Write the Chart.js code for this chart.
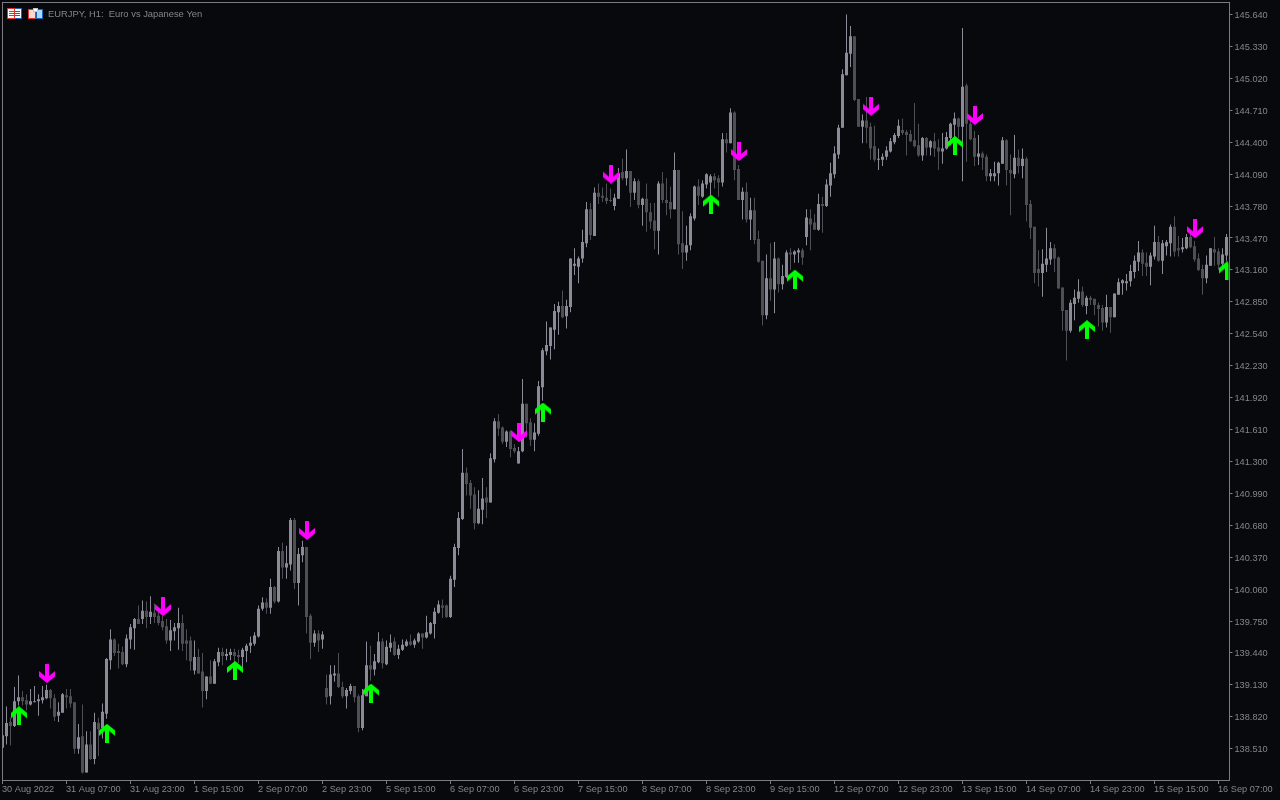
<!DOCTYPE html>
<html>
<head>
<meta charset="utf-8">
<title>EURJPY, H1</title>
<script src="https://cdn.jsdelivr.net/npm/chart.js@4/dist/chart.umd.min.js"></script>
<style>
  html, body { margin: 0; padding: 0; background: #08090d; }
  canvas { display: block; }
</style>
</head>
<body>
<canvas id="myChart" width="1280" height="800"></canvas>
<script>
const titleText = "EURJPY, H1:  Euro vs Japanese Yen";

const xTickLabels = ["30 Aug 2022", "31 Aug 07:00", "31 Aug 23:00", "1 Sep 15:00", "2 Sep 07:00",
  "2 Sep 23:00", "5 Sep 15:00", "6 Sep 07:00", "6 Sep 23:00", "7 Sep 15:00", "8 Sep 07:00",
  "8 Sep 23:00", "9 Sep 15:00", "12 Sep 07:00", "12 Sep 23:00", "13 Sep 15:00", "14 Sep 07:00",
  "14 Sep 23:00", "15 Sep 15:00", "16 Sep 07:00"];

const yTickLabels = ["145.640", "145.330", "145.020", "144.710", "144.400", "144.090", "143.780",
  "143.470", "143.160", "142.850", "142.540", "142.230", "141.920", "141.610", "141.300", "140.990",
  "140.680", "140.370", "140.060", "139.750", "139.440", "139.130", "138.820", "138.510"];

const opens = [
  138.52,138.63,138.77,138.73,138.97,139.01,138.98,138.94,138.96,138.97,
  138.98,139.00,139.08,139.00,138.83,138.86,139.03,139.02,138.96,138.51,
  138.63,138.28,138.55,138.41,138.76,138.71,138.85,139.37,139.57,139.46,
  139.45,139.33,139.57,139.68,139.77,139.77,139.85,139.79,139.83,139.80,
  139.75,139.70,139.56,139.65,139.68,139.73,139.56,139.56,139.27,139.40,
  139.26,139.07,139.21,139.14,139.35,139.45,139.41,139.42,139.45,139.42,
  139.40,139.46,139.51,139.53,139.60,139.87,139.93,139.88,140.08,139.94,
  140.43,140.27,140.30,140.73,140.12,140.39,140.47,139.80,139.54,139.63,
  139.57,139.10,139.02,139.22,139.24,139.11,139.02,139.07,139.12,139.02,
  138.71,139.02,139.32,139.28,139.35,139.55,139.33,139.49,139.55,139.42,
  139.47,139.51,139.55,139.52,139.55,139.63,139.59,139.63,139.72,139.83,
  139.90,139.90,139.79,140.15,140.46,140.74,141.19,141.09,140.98,140.70,
  140.83,140.95,140.90,141.32,141.69,141.63,141.49,141.59,141.43,141.28,
  141.40,141.86,141.68,141.51,141.57,142.02,142.37,142.42,142.58,142.75,
  142.81,142.71,142.80,143.20,143.19,143.27,143.42,143.75,143.49,143.91,
  143.88,143.86,143.84,143.78,143.85,144.11,144.05,144.12,143.91,144.02,
  143.79,143.85,143.72,143.64,143.54,144.00,143.84,143.82,143.75,144.13,
  143.42,143.33,143.40,143.66,143.97,143.87,143.99,144.01,144.07,144.05,
  144.01,144.43,144.39,144.69,144.14,143.84,143.92,143.65,143.74,143.46,
  143.25,142.72,143.08,142.97,143.27,143.02,143.09,143.33,143.31,143.33,
  143.35,143.48,143.66,143.62,143.55,143.80,143.78,143.98,144.09,144.28,
  144.54,145.05,145.26,145.43,144.82,144.55,144.61,144.55,144.36,144.23,
  144.23,144.26,144.31,144.40,144.46,144.52,144.50,144.48,144.42,144.37,
  144.27,144.44,144.35,144.41,144.35,144.31,144.34,144.44,144.57,144.63,
  144.55,144.95,144.58,144.44,144.26,144.29,144.26,144.07,144.07,144.10,
  144.19,144.42,144.13,144.09,144.25,144.17,144.24,143.80,143.58,143.17,
  143.13,143.21,143.26,143.37,143.28,142.99,142.77,142.57,142.83,142.88,
  142.95,142.81,142.89,142.88,142.82,142.79,142.65,142.80,142.70,142.92,
  143.03,143.03,143.05,143.14,143.24,143.33,143.23,143.19,143.29,143.43,
  143.25,143.39,143.42,143.58,143.37,143.36,143.37,143.48,143.39,143.27,
  143.17,143.08,143.20,143.36,143.34,143.22,143.30];

const highs = [
  138.70,138.92,138.81,139.11,139.22,139.07,139.04,139.09,139.12,139.04,
  139.12,139.13,139.09,139.04,138.96,139.05,139.09,139.09,138.96,138.75,
  138.94,138.68,138.68,138.86,138.81,138.95,139.39,139.67,139.58,139.53,
  139.50,139.62,139.72,139.78,139.90,139.95,139.94,139.99,139.92,139.87,
  139.80,139.77,139.76,139.73,139.88,139.81,139.67,139.60,139.56,139.48,
  139.44,139.21,139.37,139.38,139.49,139.49,139.48,139.48,139.48,139.47,
  139.49,139.53,139.60,139.64,139.90,139.98,139.97,140.16,140.09,140.47,
  140.51,140.48,140.75,140.75,140.46,140.53,140.47,139.82,139.66,139.66,
  139.65,139.23,139.32,139.32,139.44,139.16,139.10,139.14,139.12,139.04,
  139.09,139.55,139.51,139.43,139.64,139.58,139.56,139.62,139.59,139.52,
  139.57,139.57,139.62,139.58,139.64,139.63,139.80,139.74,139.88,139.95,
  139.96,139.91,140.19,140.50,140.81,141.42,141.24,141.12,141.05,141.02,
  141.14,141.05,141.38,141.72,141.76,141.64,141.60,141.60,141.47,141.44,
  142.10,141.86,141.72,141.67,142.08,142.40,142.66,142.60,142.83,142.85,
  142.96,142.87,143.27,143.37,143.29,143.55,143.82,143.81,143.96,144.00,
  143.96,144.00,143.95,143.90,144.15,144.24,144.33,144.12,144.05,144.04,
  143.86,144.00,143.81,143.81,144.02,144.11,144.05,143.97,144.30,144.13,
  143.73,143.59,143.71,143.98,144.04,144.03,144.10,144.09,144.10,144.08,
  144.49,144.49,144.73,144.70,144.18,143.96,144.01,143.86,143.86,143.54,
  143.25,143.31,143.42,143.43,143.28,143.21,143.35,143.37,143.35,143.37,
  143.37,143.75,143.75,143.70,143.90,143.87,144.04,144.20,144.36,144.57,
  145.11,145.64,145.53,145.43,144.82,144.67,144.84,144.59,144.56,144.34,
  144.29,144.36,144.44,144.49,144.62,144.63,144.52,144.52,144.78,144.58,
  144.45,144.45,144.42,144.49,144.43,144.49,144.50,144.59,144.69,144.64,
  145.51,144.97,144.62,144.51,144.47,144.31,144.28,144.14,144.21,144.21,
  144.45,144.43,144.28,144.47,144.33,144.34,144.26,143.84,143.58,143.35,
  143.36,143.57,143.43,143.41,143.29,142.99,142.77,142.87,142.97,143.07,
  143.00,142.91,142.91,142.88,142.84,142.82,142.92,142.80,142.93,143.08,
  143.07,143.12,143.21,143.30,143.44,143.36,143.33,143.33,143.59,143.49,
  143.45,143.45,143.60,143.68,143.49,143.47,143.51,143.51,143.44,143.32,
  143.21,143.30,143.37,143.48,143.37,143.37,143.51];

const lows = [
  138.49,138.55,138.54,138.72,138.93,138.93,138.88,138.93,138.96,138.83,
  138.95,138.99,138.90,138.78,138.77,138.86,138.90,138.91,138.46,138.46,
  138.27,138.28,138.40,138.36,138.44,138.61,138.80,139.28,139.41,139.29,
  139.32,139.30,139.48,139.47,139.72,139.72,139.68,139.72,139.73,139.71,
  139.66,139.53,139.46,139.56,139.47,139.46,139.37,139.27,139.23,139.24,
  138.91,138.99,139.14,139.14,139.31,139.32,139.37,139.37,139.34,139.34,
  139.30,139.35,139.44,139.51,139.59,139.85,139.82,139.82,139.92,139.93,
  140.16,140.16,140.24,140.06,139.90,140.32,139.63,139.38,139.50,139.45,
  139.48,138.94,138.94,139.16,139.10,139.00,138.90,139.04,138.96,138.67,
  138.69,139.02,139.17,139.22,139.34,139.29,139.32,139.45,139.41,139.38,
  139.46,139.50,139.51,139.49,139.54,139.48,139.58,139.62,139.58,139.82,
  139.78,139.78,139.78,140.08,140.39,140.73,140.97,140.84,140.64,140.69,
  140.69,140.75,140.90,141.29,141.55,141.47,141.44,141.34,141.38,141.28,
  141.39,141.53,141.45,141.40,141.55,141.89,142.33,142.29,142.39,142.53,
  142.69,142.59,142.75,143.11,143.03,143.23,143.38,143.45,143.49,143.80,
  143.82,143.80,143.82,143.74,143.85,144.03,143.98,143.77,143.84,143.76,
  143.59,143.53,143.56,143.36,143.31,143.81,143.69,143.66,143.75,143.31,
  143.17,143.25,143.35,143.64,143.79,143.86,143.95,143.88,143.95,143.87,
  143.97,144.30,144.39,144.03,143.84,143.65,143.62,143.45,143.41,143.23,
  142.62,142.68,142.86,142.74,142.94,142.97,143.08,143.16,143.23,143.23,
  143.21,143.40,143.35,143.55,143.54,143.52,143.77,143.87,144.05,144.24,
  144.54,145.05,145.13,144.80,144.55,144.39,144.39,144.23,144.21,144.13,
  144.17,144.23,144.30,144.38,144.44,144.47,144.27,144.40,144.35,144.26,
  144.22,144.27,144.27,144.26,144.13,144.19,144.33,144.37,144.42,144.44,
  144.02,144.21,144.42,144.17,144.18,144.13,144.02,144.02,144.02,143.98,
  144.19,143.98,143.69,144.05,144.10,144.05,143.63,143.46,143.03,143.00,
  142.90,143.14,143.21,143.14,142.98,142.57,142.28,142.55,142.67,142.84,
  142.80,142.73,142.82,142.72,142.61,142.57,142.60,142.55,142.70,142.92,
  142.92,142.96,143.00,143.08,143.15,143.10,143.10,143.01,143.26,143.24,
  143.12,143.30,143.29,143.29,143.29,143.33,143.36,143.37,143.24,143.15,
  142.92,143.03,143.20,143.20,143.16,143.16,143.25];

const closes = [
  138.64,138.76,138.73,138.97,139.01,138.97,138.94,138.97,138.97,138.99,
  139.01,139.08,139.00,138.82,138.87,139.04,139.01,138.95,138.51,138.62,
  138.28,138.55,138.41,138.77,138.70,138.87,139.38,139.57,139.44,139.44,
  139.33,139.58,139.69,139.77,139.72,139.85,139.79,139.84,139.79,139.73,
  139.69,139.56,139.66,139.69,139.73,139.53,139.53,139.36,139.40,139.24,
  139.07,139.21,139.14,139.36,139.45,139.41,139.43,139.45,139.41,139.40,
  139.47,139.51,139.54,139.61,139.87,139.93,139.88,140.08,139.94,140.43,
  140.27,140.31,140.73,140.12,140.40,140.47,139.79,139.54,139.63,139.56,
  139.62,139.01,139.23,139.24,139.11,139.02,139.08,139.12,139.01,138.71,
  139.03,139.32,139.28,139.36,139.55,139.34,139.50,139.54,139.42,139.48,
  139.52,139.55,139.52,139.56,139.63,139.59,139.64,139.73,139.84,139.91,
  139.88,139.79,140.16,140.47,140.75,141.19,141.08,140.97,140.70,140.84,
  140.94,140.90,141.33,141.69,141.62,141.49,141.59,141.42,141.40,141.40,
  141.86,141.67,141.51,141.58,142.03,142.38,142.43,142.60,142.76,142.81,
  142.70,142.81,143.27,143.22,143.27,143.43,143.75,143.50,143.91,143.87,
  143.86,143.83,143.83,143.86,144.10,144.05,144.12,143.91,144.02,143.79,
  143.85,143.72,143.63,143.54,144.00,143.84,143.81,143.75,144.13,143.41,
  143.33,143.40,143.68,143.97,143.88,144.00,144.09,144.07,144.03,144.01,
  144.43,144.39,144.69,144.13,143.84,143.92,143.65,143.74,143.45,143.24,
  142.72,143.08,142.97,143.27,143.02,143.10,143.33,143.31,143.34,143.35,
  143.28,143.67,143.60,143.55,143.80,143.78,143.99,144.10,144.29,144.54,
  145.06,145.27,145.43,144.81,144.55,144.61,144.54,144.34,144.23,144.24,
  144.26,144.32,144.41,144.47,144.56,144.49,144.47,144.41,144.36,144.27,
  144.44,144.35,144.41,144.34,144.31,144.34,144.45,144.58,144.63,144.55,
  144.94,144.58,144.43,144.26,144.29,144.25,144.07,144.10,144.10,144.20,
  144.42,144.13,144.10,144.25,144.17,144.24,143.79,143.57,143.13,143.13,
  143.22,143.27,143.37,143.27,142.98,142.76,142.57,142.84,142.89,142.95,
  142.82,142.89,142.87,142.82,142.78,142.65,142.80,142.70,142.93,143.04,
  143.06,143.05,143.15,143.25,143.33,143.22,143.19,143.30,143.43,143.25,
  143.42,143.43,143.58,143.34,143.35,143.38,143.48,143.38,143.26,143.16,
  143.08,143.21,143.37,143.33,143.21,143.31,143.48];

// signal arrows, bar number and price
const buyBars = [4, 26, 58, 92, 135, 177, 198, 238, 271, 306];
const buyPrices = [138.83, 138.66, 139.27, 139.05, 141.78, 143.80, 143.07, 144.37, 142.58, 143.15];
const sellBars = [11, 40, 76, 129, 152, 184, 217, 243, 298];
const sellPrices = [139.24, 139.89, 140.63, 141.58, 144.09, 144.31, 144.75, 144.66, 143.56];

const bg = "#08090d";
const frameColor = "#7b7b83";
const textColor = "#85858d";
const upColor = "#8b8b97";
const downColor = "#4e4e54";
const fontName = "'Liberation Sans', sans-serif";

const categories = opens.map((v, i) => i);
const barColors = opens.map((v, i) => closes[i] >= v ? upColor : downColor);

function sparse(bars, prices) {
  const out = categories.map(() => null);
  bars.forEach((b, i) => { out[b] = prices[i]; });
  return out;
}

// arrow image, drawn pointing up and flipped for sell signals
function arrowImage(color, up) {
  const c = document.createElement("canvas");
  c.width = 17;
  c.height = 19;
  const g = c.getContext("2d");
  if (!up) { g.translate(0, 19); g.scale(1, -1); }
  g.fillStyle = color;
  g.beginPath();
  g.moveTo(9, 0);
  g.lineTo(17, 6.5);
  g.lineTo(17, 12);
  g.lineTo(11, 7);
  g.lineTo(11, 19);
  g.lineTo(7, 19);
  g.lineTo(7, 7);
  g.lineTo(1, 12);
  g.lineTo(1, 6.5);
  g.closePath();
  g.fill();
  return c;
}

const framePlugin = {
  id: "frame",
  beforeDraw(chart) {
    const ctx = chart.ctx;
    ctx.fillStyle = bg;
    ctx.fillRect(0, 0, 1280, 800);
  },
  afterDraw(chart) {
    const ctx = chart.ctx;
    ctx.save();
    ctx.fillStyle = bg;
    ctx.fillRect(0, 0, 2, 780);
    ctx.fillStyle = frameColor;
    ctx.fillRect(2, 2, 1228, 1);
    ctx.fillRect(2, 2, 1, 779);
    ctx.fillRect(2, 780, 1228, 1);
    ctx.fillRect(1229, 2, 1, 779);

    // chart window icons
    ctx.fillStyle = "#e0342c"; ctx.fillRect(7, 8, 8, 11);
    ctx.fillStyle = "#1c62b8"; ctx.fillRect(15, 8, 7, 11);
    ctx.fillStyle = "#ffffff"; ctx.fillRect(8, 9, 6, 9); ctx.fillRect(15, 9, 6, 9);
    ctx.fillStyle = "#e0342c"; ctx.fillRect(9, 11, 5, 1); ctx.fillRect(9, 13, 5, 1); ctx.fillRect(9, 15, 5, 1);
    ctx.fillStyle = "#1c62b8"; ctx.fillRect(15, 11, 5, 1); ctx.fillRect(15, 13, 5, 1); ctx.fillRect(15, 15, 5, 1);
    ctx.fillStyle = "#e0342c"; ctx.fillRect(28, 9, 8, 10);
    ctx.fillStyle = "#1c62b8"; ctx.fillRect(36, 9, 7, 10);
    ctx.fillStyle = "#ffd8d0"; ctx.fillRect(29, 10, 6, 8);
    ctx.fillStyle = "#a8dcff"; ctx.fillRect(37, 10, 5, 8);
    ctx.fillStyle = "#c8c8c8"; ctx.fillRect(33, 8, 5, 4);
    ctx.fillStyle = "#ffffff"; ctx.fillRect(34, 9, 3, 2);

    ctx.fillStyle = textColor;
    ctx.font = "9.4px " + fontName;
    ctx.textBaseline = "middle";
    ctx.textAlign = "left";
    ctx.fillText(titleText, 48, 14);
    ctx.restore();
  }
};

const ctx = document.getElementById("myChart").getContext("2d");
const myChart = new Chart(ctx, {
  type: "bar",
  plugins: [framePlugin],
  data: {
    labels: categories,
    datasets: [
      {
        label: "Buy",
        type: "line",
        data: sparse(buyBars, buyPrices),
        showLine: false,
        pointStyle: arrowImage("#00ff00", true),
        clip: 0,
        order: 0
      },
      {
        label: "Sell",
        type: "line",
        data: sparse(sellBars, sellPrices),
        showLine: false,
        pointStyle: arrowImage("#ff00ff", false),
        clip: 0,
        order: 0
      },
      {
        label: "Body",
        data: opens.map((v, i) => [v, closes[i]]),
        backgroundColor: barColors,
        barThickness: 3,
        minBarLength: 1,
        inflateAmount: 0,
        grouped: false,
        order: 1
      },
      {
        label: "Wick",
        data: lows.map((v, i) => [v, highs[i]]),
        backgroundColor: barColors,
        barThickness: 1,
        inflateAmount: 0,
        grouped: false,
        order: 2
      }
    ]
  },
  options: {
    responsive: false,
    animation: false,
    events: [],
    layout: { autoPadding: false, padding: { left: 0.5, top: 2, right: 0, bottom: 0 } },
    plugins: { legend: { display: false }, tooltip: { enabled: false } },
    scales: {
      x: {
        type: "category",
        offset: true,
        border: { display: false },
        grid: { drawOnChartArea: false, tickLength: 4, tickColor: frameColor, offset: false },
        ticks: {
          autoSkip: false,
          maxRotation: 0,
          align: "start",
          padding: 0,
          labelOffset: -0.5,
          color: textColor,
          font: { family: fontName, size: 9.2 },
          callback: v => xTickLabels[v / 16]
        },
        afterBuildTicks(scale) {
          scale.ticks = scale.ticks.filter(t => t.value % 16 === 0);
        },
        afterFit(scale) {
          scale.height = 20;
          scale.paddingLeft = 0;
          scale.paddingRight = 0;
        }
      },
      y: {
        type: "linear",
        position: "right",
        min: 138.206,
        max: 145.762,
        border: { display: false },
        grid: { drawOnChartArea: false, tickLength: 4, tickColor: frameColor },
        ticks: {
          autoSkip: false,
          padding: 2,
          labelOffset: 1,
          color: textColor,
          font: { family: fontName, size: 9.2 },
          callback: v => v.toFixed(3)
        },
        afterBuildTicks(scale) {
          scale.ticks = yTickLabels.map(v => ({ value: parseFloat(v) }));
        },
        afterFit(scale) {
          scale.width = 51.5;
          scale.paddingTop = 0;
          scale.paddingBottom = 0;
        }
      }
    }
  }
});
</script>
</body>
</html>
